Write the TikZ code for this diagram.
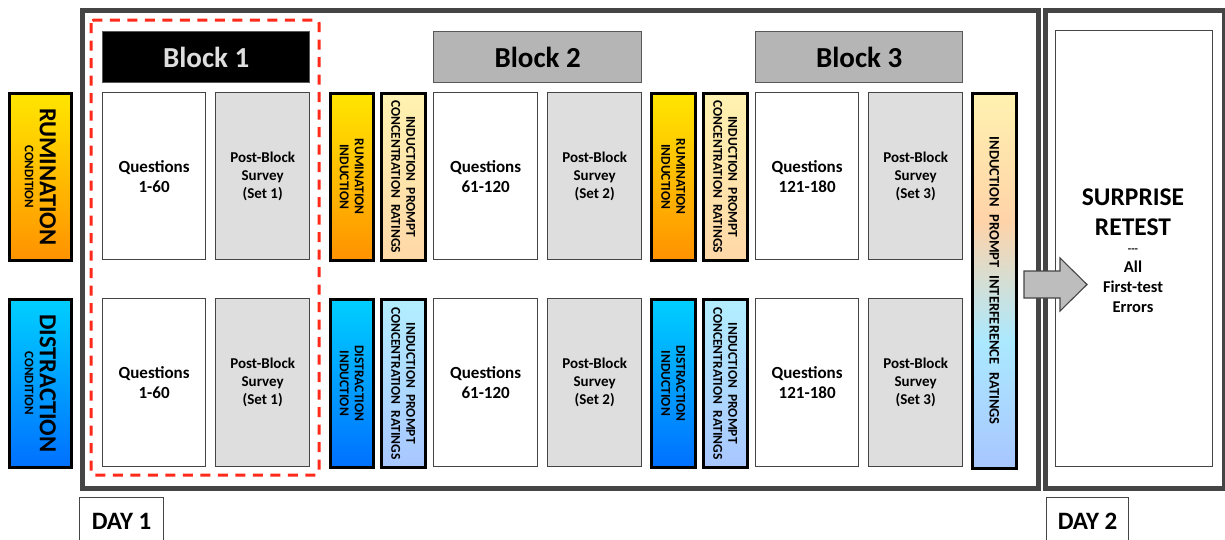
\documentclass[tikz,border=0pt]{standalone}
\usepackage{fontspec}
\setmainfont{Carlito}
\usetikzlibrary{shadows}
\definecolor{rumtop}{HTML}{FFE600}
\definecolor{rumbot}{HTML}{FF9200}
\definecolor{distop}{HTML}{00CFFF}
\definecolor{disbot}{HTML}{0070FF}
\definecolor{prtop}{HTML}{FFF2B0}
\definecolor{prbot}{HTML}{FFD8A8}
\definecolor{pdtop}{HTML}{B3EEFF}
\definecolor{pdbot}{HTML}{A8C6FF}
\definecolor{ipeach}{HTML}{FFD3A8}
\definecolor{icyan}{HTML}{ABE9FF}
\definecolor{frame}{HTML}{454545}
\definecolor{survey}{HTML}{DEDEDE}
\definecolor{hdrgray}{HTML}{B5B5B5}
\definecolor{dashred}{HTML}{FF2A1A}
\definecolor{arrowgray}{HTML}{BDBDBD}
\pgfdeclareverticalshading{interf}{100bp}{color(0bp)=(pdbot); color(25bp)=(pdbot); color(42bp)=(icyan); color(58bp)=(ipeach); color(75bp)=(prtop); color(100bp)=(prtop)}
\newcommand\bx[7]{\node[#6, anchor=north west, inner sep=0pt, minimum width={#4-#2}, minimum height={#5-#3}] (#1) at (#2,#3) {#7};}
\tikzset{
  daybox/.style={draw=frame, line width=4.5pt},
  inbox/.style={draw=frame, line width=1.3pt, fill=white, align=center},
  qbox/.style={draw=frame, line width=1.3pt, fill=white, align=center, font=\bfseries\fontsize{17}{20}\selectfont},
  sbox/.style={draw=frame, line width=1.3pt, fill=survey, align=center, font=\bfseries\fontsize{15}{18}\selectfont},
  hdr/.style={draw=frame!90, line width=1.3pt, font=\bfseries\fontsize{29}{32}\selectfont},
  colbox/.style={draw=black, line width=2.6pt, drop shadow={shadow xshift=1.2pt, shadow yshift=-1.2pt, opacity=0.35}},
  rum/.style={colbox, top color=rumtop, bottom color=rumbot},
  dis/.style={colbox, top color=distop, bottom color=disbot},
  prr/.style={colbox, top color=prtop, bottom color=prbot},
  prd/.style={colbox, top color=pdtop, bottom color=pdbot},
  rtext/.style={rotate=-90, align=center, inner sep=0pt, font=\bfseries\fontsize{13.5}{15}\selectfont},
  lbl/.style={draw=frame, line width=1.2pt, fill=white, font=\bfseries\fontsize{25}{27}\selectfont}
}
\begin{document}
\begin{tikzpicture}[x=1pt,y=-1pt]
\useasboundingbox (0,0) rectangle (1225,539);
% day frames
\bx{day1}{80}{8}{1036}{486}{daybox}{}
\bx{day2}{1043}{8}{1222}{486}{daybox}{}
\bx{retest}{1055}{30}{1212}{466}{inbox}{}
% condition boxes
\bx{rumc}{8}{92}{70}{259}{rum}{}
\bx{disc}{8}{298}{70}{466}{dis}{}
\node[rtext] (rumct) at (rumc.center) {{\fontsize{24.5}{24}\selectfont RUMINATION}\\{\fontsize{13}{15}\selectfont CONDITION}};
\node[rtext] (disct) at (disc.center) {{\fontsize{24.5}{24}\selectfont DISTRACTION}\\{\fontsize{13}{15}\selectfont CONDITION}};
% red dashed block 1
\draw[dashred, line width=3pt, dash pattern=on 10pt off 7.5pt, rounded corners=3pt] (91,20) rectangle (319,475);
% headers
\bx{h1}{102}{31}{309}{82}{hdr, fill=black, text=survey}{Block 1}
\bx{h2}{433}{31}{641}{82}{hdr, fill=hdrgray}{Block 2}
\bx{h3}{755}{31}{962}{82}{hdr, fill=hdrgray}{Block 3}
% block 1
\bx{q1a}{102}{92}{205}{259}{qbox}{Questions\\1-60}
\bx{s1a}{215}{92}{309}{259}{sbox}{Post-Block\\Survey\\(Set 1)}
\bx{q1b}{102}{298}{205}{466}{qbox}{Questions\\1-60}
\bx{s1b}{215}{298}{309}{466}{sbox}{Post-Block\\Survey\\(Set 1)}
% inductions 1
\bx{ri1}{329}{92}{372}{259}{rum}{}
\bx{pr1}{380}{92}{424}{259}{prr}{}
\bx{di1}{329}{298}{372}{466}{dis}{}
\bx{pd1}{380}{298}{424}{466}{prd}{}
\node[rtext] (ri1t) at (ri1.center) {RUMINATION\\INDUCTION};
\node[rtext] (pr1t) at (pr1.center) {INDUCTION\ \ PROMPT\\CONCENTRATION\ \ RATINGS};
\node[rtext] (di1t) at (di1.center) {DISTRACTION\\INDUCTION};
\node[rtext] (pd1t) at (pd1.center) {INDUCTION\ \ PROMPT\\CONCENTRATION\ \ RATINGS};
% block 2
\bx{q2a}{433}{92}{537}{259}{qbox}{Questions\\61-120}
\bx{s2a}{547}{92}{641}{259}{sbox}{Post-Block\\Survey\\(Set 2)}
\bx{q2b}{433}{298}{537}{466}{qbox}{Questions\\61-120}
\bx{s2b}{547}{298}{641}{466}{sbox}{Post-Block\\Survey\\(Set 2)}
% inductions 2
\bx{ri2}{650}{92}{694}{259}{rum}{}
\bx{pr2}{702}{92}{746}{259}{prr}{}
\bx{di2}{650}{298}{694}{466}{dis}{}
\bx{pd2}{702}{298}{746}{466}{prd}{}
\node[rtext] (ri2t) at (ri2.center) {RUMINATION\\INDUCTION};
\node[rtext] (pr2t) at (pr2.center) {INDUCTION\ \ PROMPT\\CONCENTRATION\ \ RATINGS};
\node[rtext] (di2t) at (di2.center) {DISTRACTION\\INDUCTION};
\node[rtext] (pd2t) at (pd2.center) {INDUCTION\ \ PROMPT\\CONCENTRATION\ \ RATINGS};
% block 3
\bx{q3a}{755}{92}{858}{259}{qbox}{Questions\\121-180}
\bx{s3a}{868}{92}{962}{259}{sbox}{Post-Block\\Survey\\(Set 3)}
\bx{q3b}{755}{298}{858}{466}{qbox}{Questions\\121-180}
\bx{s3b}{868}{298}{962}{466}{sbox}{Post-Block\\Survey\\(Set 3)}
% interference
\bx{intf}{971}{92}{1015}{467}{colbox, shading=interf}{}
\node[rtext, font=\bfseries\fontsize{14.5}{15}\selectfont] (intft) at (intf.center) {\hbox to 288pt{INDUCTION\hfill PROMPT\hfill INTERFERENCE\hfill RATINGS}};
% arrow
\draw[fill=arrowgray, draw=frame, line width=1.1pt, line join=miter] (1024,271) -- (1060,271) -- (1060,258) -- (1087,284.5) -- (1060,311) -- (1060,298) -- (1024,298) -- cycle;
% retest text
\node[align=center, inner sep=0pt, font=\bfseries\fontsize{25.5}{30}\selectfont] (rt1) at (1133,212) {SURPRISE\\RETEST};
\node[align=center, inner sep=0pt, font=\bfseries\fontsize{16.5}{20}\selectfont] (rt2) at (1133,281) {\fontsize{11}{20}\selectfont -{}-{}-\\All\\First-test\\Errors};
% day labels
\bx{d1}{79}{497}{163}{545}{lbl}{DAY 1}
\bx{d2}{1046}{497}{1128}{545}{lbl}{DAY 2}
\end{tikzpicture}
\end{document}
